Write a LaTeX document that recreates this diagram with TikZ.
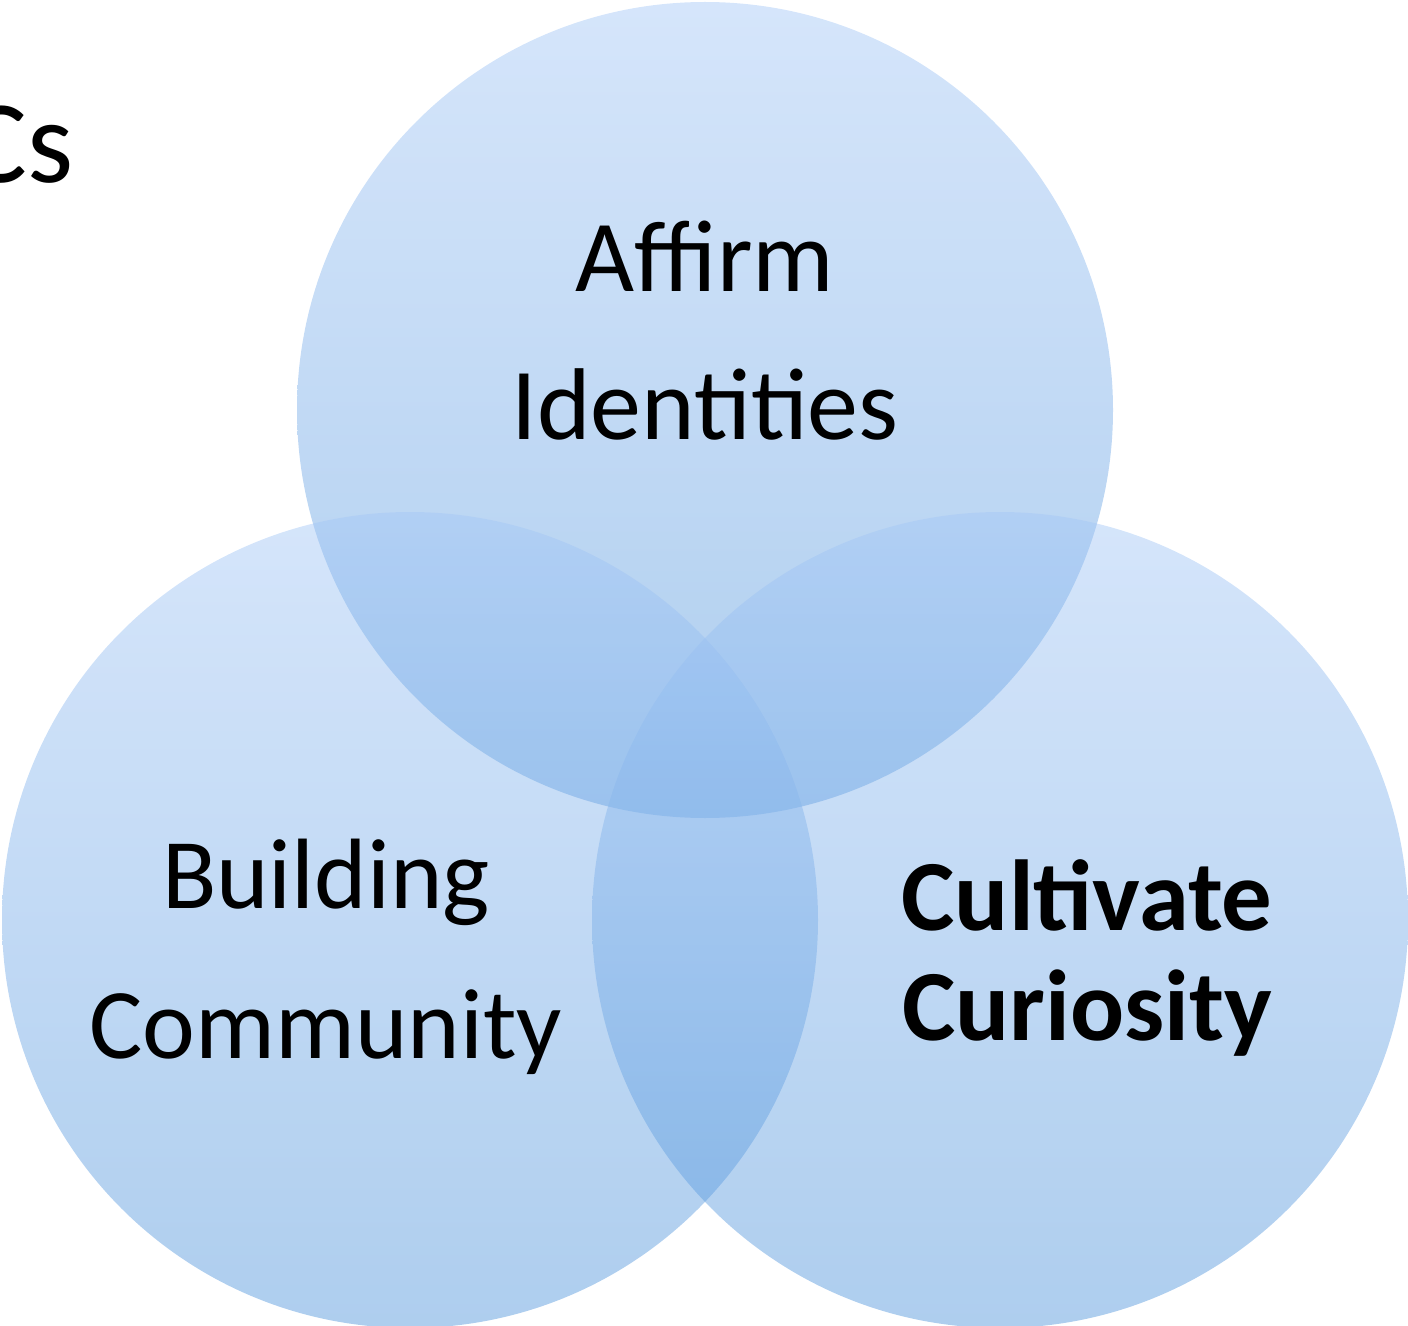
\documentclass[tikz,border=0pt]{standalone}
\usepackage{fontspec}
\setmainfont{Carlito}
\definecolor{vtop}{RGB}{166,200,246}
\definecolor{vbot}{RGB}{82,150,219}
\tikzset{
  venn/.style={circle, draw=none, inner sep=0pt, minimum size=408pt,
    top color=vtop, bottom color=vbot, fill opacity=0.47},
  lbl/.style={anchor=base, inner sep=0pt, font=\fontsize{51}{60}\selectfont},
  lblb/.style={anchor=base, inner sep=0pt, font=\fontsize{50.4}{60}\selectfont\bfseries},
}
\begin{document}
\begin{tikzpicture}[x=0.5pt,y=-0.5pt]
\useasboundingbox (0,0) rectangle (1408,1326);
\node[venn] (top) at (705,410) {};
\node[venn] (left) at (410,920) {};
\node[venn] (right) at (1000,920) {};
\node[lbl] (a1) at (705,292) {Affirm};
\node[lbl] (a2) at (705,440) {Identities};
\node[lbl, font=\fontsize{50}{60}\selectfont] (b1) at (326,908) {Building};
\node[lbl, font=\fontsize{50}{60}\selectfont] (b2) at (326,1058) {Community};
\node[lblb] (c1) at (1087,930) {Cultivate};
\node[lblb] (c2) at (1087,1040) {Curiosity};
\node[lbl, anchor=base east, font=\fontsize{59}{70}\selectfont] (cs) at (74,183) {Cs};
\end{tikzpicture}
\end{document}
